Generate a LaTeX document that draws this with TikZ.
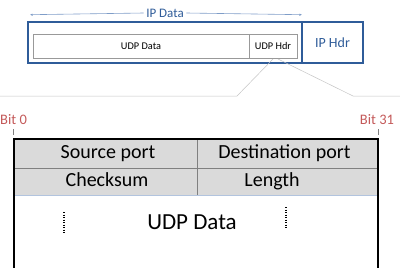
\documentclass[tikz,border=0pt]{standalone}
\usepackage{fontspec}
\setmainfont{Carlito}
\usetikzlibrary{arrows.meta}
\definecolor{ipblue}{HTML}{2F5C99}
\definecolor{lightblue}{HTML}{7F9DC8}
\definecolor{bitred}{HTML}{C45A5A}
\definecolor{cellgray}{HTML}{DADADA}
\definecolor{rulegray}{HTML}{C4C4C4}
\tikzset{
  cell/.style={anchor=north west, inner sep=0pt, outer sep=0pt},
  ipbox/.style={cell, draw=ipblue, line width=1.8pt},
  udpbox/.style={cell, draw=gray!80, line width=0.6pt, font=\fontsize{10.3}{11}\selectfont},
  hdrcell/.style={cell, fill=cellgray, draw=gray, line width=0.5pt,
    font=\fontsize{20}{22}\selectfont, text height=13pt, text depth=3pt},
  bitlabel/.style={text=bitred, font=\fontsize{14.5}{16}\selectfont, inner sep=0pt},
  zoomline/.style={draw=rulegray, line width=0.5pt},
  frame/.style={line width=1.8pt, black},
  ellipsis/.style={line width=1.2pt, dash pattern=on 1pt off 1.5pt},
}
\begin{document}
\begin{tikzpicture}[x=1pt, y=-1pt]
  \useasboundingbox (0,0) rectangle (400,268);
  % IP packet
  \node[ipbox, minimum width=274pt, minimum height=41pt] (ipdata) at (28,22) {};
  \node[ipbox, minimum width=61pt, minimum height=41pt, text=ipblue,
        font=\fontsize{14}{16}\selectfont] (iphdr) at (302,22) {IP Hdr};
  % UDP datagram inside the IP payload
  \node[udpbox, minimum width=216pt, minimum height=24pt] (udpdata) at (33,34) {UDP Data};
  \node[udpbox, minimum width=48pt, minimum height=24pt] (udphdr) at (249,34) {UDP Hdr};
  % IP Data span arrow
  \node[text=ipblue, font=\fontsize{13}{15}\selectfont, fill=white, inner sep=2.5pt] (iplabel) at (165,13) {IP Data};
  \coordinate (spanL) at (30,14.7);
  \coordinate (spanR) at (302,14.7);
  \draw[lightblue, line width=0.6pt, -{Latex[length=2.5pt,width=2.5pt]}] (iplabel.west) -- (spanL);
  \draw[lightblue, line width=0.6pt, -{Latex[length=2.5pt,width=2.5pt]}] (iplabel.east) -- (spanR);
  % zoom lines from UDP header to the header layout
  \coordinate (zl0) at (0,96);
  \coordinate (zl1) at (237,96);
  \coordinate (zr1) at (353,96);
  \coordinate (zr0) at (400,96);
  \draw[zoomline] (zl0) -- (zl1) -- ([xshift=-24pt,yshift=-1pt]udphdr.south east);
  \draw[zoomline] ([xshift=-19pt,yshift=-1pt]udphdr.south east) -- (zr1) -- (zr0);
  % UDP header layout
  \node[hdrcell, minimum width=183pt, minimum height=29pt] (src) at (14,139) {\hspace*{5pt}Source port};
  \node[hdrcell, minimum width=181pt, minimum height=29pt] (dst) at (197,139) {\hspace*{-6pt}Destination port};
  \node[hdrcell, minimum width=183pt, minimum height=27pt] (chk) at (14,168) {\hspace*{3pt}Checksum};
  \node[hdrcell, minimum width=181pt, minimum height=27pt] (len) at (197,168) {\hspace*{-31pt}Length};
  \draw[lightblue!60, line width=0.8pt] (chk.south west) -- (len.south east);
  \node[font=\fontsize{23}{26}\selectfont, inner sep=0pt] (payload) at (192,222) {UDP Data};
  % outer frame, open at the bottom
  \coordinate (fl) at (14,268);
  \coordinate (fr) at (378,268);
  \draw[frame] (fl) -- (src.north west) -- (dst.north east) -- (fr);
  \draw[ellipsis] (64,212) -- (64,234);
  \draw[ellipsis] (286,207) -- (286,229);
  % bit numbering
  \node[bitlabel, anchor=west] (bit0) at (0,120) {Bit 0};
  \node[bitlabel] (bit31) at (377,120) {Bit 31};
  \draw[gray, line width=0.5pt] (13,129) -- (13,135);
  \draw[gray, line width=0.5pt] (378,129) -- (378,135);
\end{tikzpicture}
\end{document}
